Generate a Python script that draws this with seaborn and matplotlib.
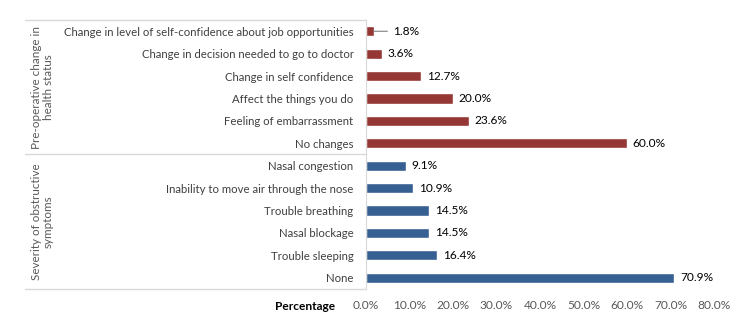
import matplotlib
matplotlib.use("Agg")
from matplotlib import pyplot as plt
import pandas as pd
import seaborn as sns

categories = [
    "Change in level of self-confidence about job opportunities",
    "Change in decision needed to go to doctor",
    "Change in self confidence",
    "Affect the things you do",
    "Feeling of embarrassment",
    "No changes",
    "Nasal congestion",
    "Inability to move air through the nose",
    "Trouble breathing",
    "Nasal blockage",
    "Trouble sleeping",
    "None",
]
values = [1.8, 3.6, 12.7, 20.0, 23.6, 60.0, 9.1, 10.9, 14.5, 14.5, 16.4, 70.9]
groups = ["Pre-operative change in\nhealth status"] * 6 + ["Severity of obstructive\nsymptoms"] * 6
group_colors = ["#953735", "#376092"]
x_ticks = [0, 10, 20, 30, 40, 50, 60, 70, 80]

df = pd.DataFrame({"category": categories, "value": values, "group": groups})

sns.set_style("white")
plt.rcParams["font.family"] = ["Lato", "DejaVu Sans"]

fig = plt.figure(figsize=(7.5, 3.29), dpi=100)
ax = fig.add_axes([0.488, 0.122, 0.464, 0.817])

sns.barplot(data=df, x="value", y="category", hue="group", palette=group_colors,
            dodge=False, width=0.45, legend=False, ax=ax, saturation=1)

ax.set_xlim(0, 80)
ax.set_ylim(len(categories) - 0.5, -0.5)
ax.set_xticks(x_ticks)
ax.set_xticklabels([f"{t:.1f}%" for t in x_ticks], color="#595959", fontsize=8.6)
ax.tick_params(axis="y", labelsize=8.2, labelcolor="#404040", length=0, pad=9)
ax.tick_params(axis="x", length=0, pad=8)
ax.set_xlabel("")
ax.set_ylabel("")
for s in ["top", "right", "bottom"]:
    ax.spines[s].set_visible(False)
ax.spines["left"].set_color("#d9d9d9")

# value labels
for i, v in enumerate(values):
    if v < 3:
        ax.annotate(f"{v:.1f}%", xy=(v, i), xytext=(v + 4.5, i), va="center", ha="left",
                    fontsize=8.6, color="#000000",
                    arrowprops=dict(arrowstyle="-", color="#7f7f7f", lw=0.8, shrinkA=2, shrinkB=0))
    else:
        ax.annotate(f"{v:.1f}%", xy=(v, i), xytext=(4, 0), textcoords="offset points",
                    va="center", ha="left", fontsize=8.6, color="#000000")

# group separators and labels
trans = ax.get_yaxis_transform()
n = len(categories) // 2
for y in [-0.5, n - 0.5, len(categories) - 0.5]:
    ax.plot([-0.98, 0], [y, y], transform=trans, color="#d9d9d9", lw=1, clip_on=False)
for k, g in enumerate(dict.fromkeys(groups)):
    ax.text(-0.93, k * n + (n - 1) / 2, g, transform=trans, rotation=90, ha="center",
            va="center", multialignment="center", fontsize=8.4, color="#595959",
            linespacing=1.1)

ax.text(-0.175, -0.045, "Percentage", transform=ax.transAxes, ha="center", va="top",
        fontsize=8.6, fontweight="bold", color="#000000")

fig.savefig("out.png", dpi=100)
